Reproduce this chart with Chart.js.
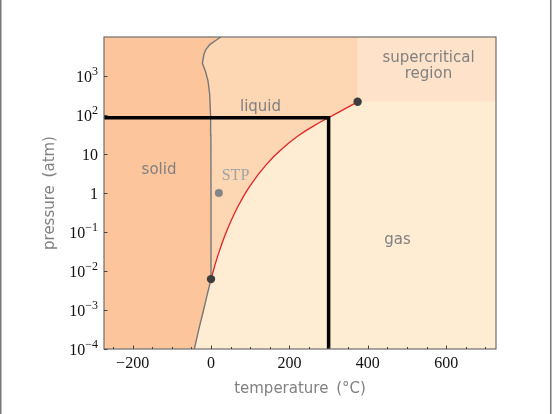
<!DOCTYPE html>
<html><head><meta charset="utf-8">
<script src="https://cdn.jsdelivr.net/npm/chart.js@4.4.1/dist/chart.umd.min.js"></script>
<style>html,body{margin:0;padding:0;background:#fff}canvas{display:block}</style>
</head><body><canvas id="c" width="552" height="414"></canvas>
<script>
// ---- data ----
const tempRange = [-273, 727];
const pressureRange = [1e-4, 1e4];
const xTicks = [-200, 0, 200, 400, 600];
const xTickLabels = ['\u2212200', '0', '200', '400', '600'];
const xMinorTicks = [-250, -150, -100, -50, 50, 100, 150, 250, 300, 350, 450, 500, 550, 650, 700];
const yTicks = [1e-4, 1e-3, 1e-2, 1e-1, 1, 10, 100, 1000];
const yTickBases = ['10', '10', '10', '10', '1', '10', '10', '10'];
const yTickExps = ['\u22124', '\u22123', '\u22122', '\u22121', '', '', '2', '3'];

const sublimationT = [-43, -40, -30, -20, -10, 0.01];
const sublimationP = [9.6e-5, 1.3e-4, 3.6e-4, 9.0e-4, 2.4e-3, 0.0062];
const meltingT = [0.01, 0, -0.3, -1, -3.4, -7.7, -14.5, -22, -18, -12.8, -2.5, 10, 25];
const meltingP = [0.0062, 1, 30, 90, 340, 750, 1350, 2100, 3600, 4850, 6500, 7900, 10000];
const vaporT = [0.01, 5, 10, 15, 20, 25, 30, 35, 40, 50, 60, 70, 80, 90, 100, 120, 140, 160, 180, 200, 220, 240, 260, 280, 300, 320, 340, 360, 374];
const vaporP = [0.0062, 0.0094, 0.0141, 0.0207, 0.0296, 0.0417, 0.0577, 0.0787, 0.106, 0.183, 0.302, 0.478, 0.73, 1.08, 1.55, 2.96, 5.2, 8.6, 13.3, 19.7, 28, 38.5, 51, 67, 85, 110, 141, 182, 218];
const triplePoint = [0.01, 0.0062];
const criticalPoint = [374, 218];
const stpPoint = [20, 1];
const guidePoint = [300, 85];

const regionLabels = ['solid', 'liquid', 'gas', 'supercritical', 'region', 'STP'];
const axisTitles = ['temperature \u2009(\u00b0C)', 'pressure \u2009(atm)'];

// ---- build shapes from data ----
const pts = (T, P) => T.map((t, i) => ({x: t, y: P[i]}));
const [xmin, xmax] = tempRange;
const [ymin, ymax] = pressureRange;
const subl = pts(sublimationT, sublimationP);
const melt = pts(meltingT, meltingP);
const vap = pts(vaporT, vaporP);

const gasPoly = [{x: xmin, y: ymin}, {x: xmax, y: ymin}, {x: xmax, y: ymax}, {x: xmin, y: ymax}];
const solidPoly = [{x: xmin, y: ymin}, ...subl, ...melt.slice(1), {x: xmin, y: ymax}];
const liquidPoly = [...melt, {x: criticalPoint[0], y: ymax}, ...vap.slice().reverse()];
const superPoly = [{x: criticalPoint[0], y: criticalPoint[1]}, {x: xmax, y: criticalPoint[1]}, {x: xmax, y: ymax}, {x: criticalPoint[0], y: ymax}];
const phaseLine = [...subl, ...melt.slice(1)];
const guideLine = [{x: xmin, y: guidePoint[1]}, {x: guidePoint[0], y: guidePoint[1]}, {x: guidePoint[0], y: ymin}];

const region = (data, color, order) => ({
  data, order, fill: 'shape', backgroundColor: color, borderWidth: 0,
  pointRadius: 0, tension: 0
});

const decor = {
  id: 'decor',
  beforeDraw(chart) {
    const ctx = chart.ctx;
    ctx.save();
    ctx.fillStyle = '#fff';
    ctx.fillRect(0, 0, chart.width, chart.height);
    ctx.restore();
  },
  afterDraw(chart) {
    const {ctx, chartArea: a, scales: {x, y}} = chart;
    ctx.save();
    // spines
    ctx.strokeStyle = '#6e6e6e';
    ctx.lineWidth = 1.2;
    ctx.strokeRect(a.left, a.top, a.right - a.left, a.bottom - a.top);
    // ticks (inward)
    ctx.strokeStyle = '#444';
    ctx.lineWidth = 1;
    ctx.beginPath();
    xTicks.forEach(v => { const p = Math.round(x.getPixelForValue(v)) + 0.5; ctx.moveTo(p, a.bottom); ctx.lineTo(p, a.bottom - 3.5); });
    xMinorTicks.forEach(v => { const p = Math.round(x.getPixelForValue(v)) + 0.5; ctx.moveTo(p, a.bottom); ctx.lineTo(p, a.bottom - 2); });
    yTicks.forEach(v => { const p = Math.round(y.getPixelForValue(v)) + 0.5; ctx.moveTo(a.left, p); ctx.lineTo(a.left + 3.5, p); });
    ctx.stroke();
    // x tick labels
    ctx.fillStyle = '#111';
    ctx.font = '16px "Liberation Serif"';
    ctx.textAlign = 'center';
    ctx.textBaseline = 'alphabetic';
    xTicks.forEach((v, i) => ctx.fillText(xTickLabels[i], x.getPixelForValue(v), a.bottom + 19));
    // y tick labels with superscripts
    ctx.textAlign = 'left';
    const right = a.left - 6;
    yTicks.forEach((v, i) => {
      const py = y.getPixelForValue(v);
      ctx.font = '12px "Liberation Serif"';
      const ew = yTickExps[i] ? ctx.measureText(yTickExps[i]).width : 0;
      ctx.font = '16px "Liberation Serif"';
      const bw = ctx.measureText(yTickBases[i]).width;
      ctx.fillText(yTickBases[i], right - ew - bw, py + 5.7);
      if (yTickExps[i]) {
        ctx.font = '12px "Liberation Serif"';
        ctx.fillText(yTickExps[i], right - ew, py - 1);
      }
    });
    // axis titles
    ctx.fillStyle = '#808080';
    ctx.font = '15px "DejaVu Sans"';
    ctx.textAlign = 'center';
    ctx.fillText(axisTitles[0], (a.left + a.right) / 2, 392.5);
    ctx.save();
    ctx.translate(54, (a.top + a.bottom) / 2);
    ctx.rotate(-Math.PI / 2);
    ctx.fillText(axisTitles[1], 0, 0);
    ctx.restore();
    // region labels
    ctx.fillText(regionLabels[0], 159, 174);
    ctx.fillText(regionLabels[1], 260.5, 110.5);
    ctx.fillText(regionLabels[2], 397.5, 244);
    ctx.fillText(regionLabels[3], 428.5, 61.5);
    ctx.fillText(regionLabels[4], 428.5, 78);
    ctx.fillStyle = '#a3a3a3';
    ctx.font = '16px "Liberation Serif"';
    ctx.fillText(regionLabels[5], 235.5, 179.5);
    // figure frame edges
    ctx.strokeStyle = '#777';
    ctx.lineWidth = 1.5;
    ctx.beginPath();
    ctx.moveTo(0.75, 0); ctx.lineTo(0.75, chart.height);
    ctx.moveTo(550.75, 0); ctx.lineTo(550.75, chart.height);
    ctx.stroke();
    ctx.restore();
  }
};

new Chart(document.getElementById('c'), {
  type: 'line',
  data: {
    datasets: [
      region(gasPoly, '#feecd3', 20),
      region(solidPoly, '#fdc59c', 19),
      region(liquidPoly, '#fdd6b3', 18),
      region(superPoly, '#fee3ca', 17),
      {data: phaseLine, order: 10, borderColor: '#777777', borderWidth: 1.4, pointRadius: 0, fill: false, tension: 0},
      {data: vap, order: 9, borderColor: '#e02525', borderWidth: 1.3, pointRadius: 0, fill: false, tension: 0},
      {data: guideLine, order: 8, borderColor: '#000', borderWidth: 3.5, pointRadius: 0, fill: false, tension: 0, borderCapStyle: 'butt', borderJoinStyle: 'miter'},
      {data: [{x: stpPoint[0], y: stpPoint[1]}], order: 3, showLine: false, pointRadius: 4, pointBackgroundColor: '#858585', pointBorderWidth: 0},
      {data: [{x: triplePoint[0], y: triplePoint[1]}, {x: criticalPoint[0], y: criticalPoint[1]}], order: 2, showLine: false, pointRadius: 4.2, pointBackgroundColor: '#3d3d3d', pointBorderWidth: 0}
    ]
  },
  options: {
    responsive: false,
    animation: false,
    devicePixelRatio: 1,
    events: [],
    layout: {padding: {left: 104, top: 37, right: 56, bottom: 65}},
    plugins: {legend: {display: false}, tooltip: {enabled: false}},
    scales: {
      x: {type: 'linear', display: false, min: xmin, max: xmax},
      y: {type: 'logarithmic', display: false, min: ymin, max: ymax}
    }
  },
  plugins: [decor]
});
</script>
</body></html>
